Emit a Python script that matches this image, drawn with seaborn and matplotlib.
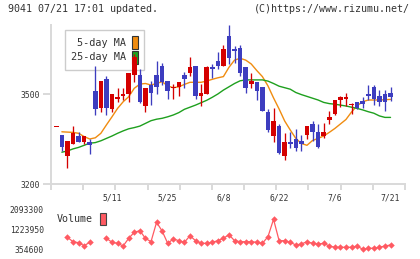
import numpy as np
import pandas as pd
import matplotlib
matplotlib.use("Agg")
import matplotlib.pyplot as plt
from matplotlib.patches import Patch
import seaborn as sns

# daily prices (red = up day, blue = down day)
opens = [3390, 3365, 3295, 3335, 3360, 3340, 3340, 3510, 3455, 3550,
         3450, 3485, 3495, 3500, 3565, 3565, 3460, 3530, 3565, 3595,
         3545, 3520, 3525, 3565, 3570, 3595, 3495, 3500, 3590, 3610,
         3595, 3695, 3650, 3655, 3590, 3535, 3540, 3525, 3440, 3360,
         3395, 3295, 3340, 3350, 3345, 3365, 3400, 3375, 3360, 3415,
         3435, 3480, 3485, 3462, 3475, 3478, 3500, 3525, 3495, 3500, 3505]
closes = [3390, 3325, 3345, 3370, 3340, 3360, 3330, 3450, 3545, 3455,
          3500, 3490, 3500, 3570, 3625, 3475, 3520, 3505, 3525, 3540,
          3510, 3525, 3540, 3550, 3590, 3495, 3505, 3590, 3585, 3595,
          3650, 3620, 3645, 3570, 3520, 3545, 3510, 3445, 3380, 3410,
          3305, 3340, 3335, 3320, 3335, 3395, 3375, 3325, 3375, 3425,
          3480, 3490, 3490, 3467, 3455, 3468, 3493, 3485, 3475, 3475, 3490]
highs = [3390, 3365, 3345, 3395, 3375, 3360, 3350, 3595, 3545, 3560,
         3500, 3520, 3520, 3570, 3635, 3585, 3520, 3545, 3610, 3605,
         3545, 3535, 3540, 3575, 3625, 3595, 3535, 3595, 3600, 3640,
         3665, 3730, 3660, 3665, 3590, 3570, 3540, 3525, 3450, 3452,
         3400, 3370, 3375, 3385, 3365, 3395, 3410, 3400, 3402, 3442,
         3480, 3495, 3505, 3470, 3475, 3490, 3530, 3530, 3515, 3515, 3525]
lows = [3390, 3310, 3255, 3335, 3340, 3335, 3300, 3430, 3440, 3430,
        3440, 3472, 3480, 3475, 3540, 3470, 3440, 3465, 3500, 3530,
        3485, 3485, 3495, 3520, 3560, 3485, 3460, 3500, 3555, 3585,
        3595, 3600, 3605, 3560, 3505, 3520, 3480, 3445, 3375, 3340,
        3300, 3280, 3320, 3310, 3310, 3350, 3345, 3320, 3355, 3400,
        3430, 3458, 3460, 3432, 3450, 3452, 3480, 3465, 3460, 3445, 3477]

# moving averages (first day has none)
ma5 = [np.nan, 3374, 3373, 3372, 3369, 3358, 3350, 3354, 3369, 3397,
       3424, 3452, 3474, 3491, 3519, 3533, 3535, 3530, 3535, 3541,
       3527, 3521, 3524, 3532, 3539, 3539, 3539, 3543, 3549, 3554,
       3558, 3589, 3613, 3619, 3613, 3600, 3578, 3558, 3527, 3487,
       3450, 3410, 3380, 3352, 3335, 3329, 3345, 3352, 3360, 3372,
       3385, 3400, 3415, 3440, 3461, 3474, 3480, 3480, 3480, 3481, 3482]
ma25 = [np.nan, 3306, 3310, 3317, 3322, 3329, 3336, 3338, 3344, 3352,
        3360, 3369, 3377, 3384, 3388, 3393, 3402, 3411, 3416, 3419,
        3424, 3430, 3438, 3449, 3456, 3463, 3471, 3479, 3489, 3500,
        3513, 3524, 3535, 3544, 3547, 3547, 3547, 3547, 3543, 3535,
        3526, 3521, 3516, 3505, 3498, 3492, 3486, 3480, 3472, 3468,
        3466, 3463, 3460, 3456, 3452, 3447, 3441, 3436, 3427, 3422, 3422]

# volume (two missing days)
volume = [np.nan, np.nan, 872000, 682000, 639000, 510000, 657000, np.nan, np.nan, 829000,
          657000, 613000, 497000, 829000, 1088000, 1157000, 829000, 682000, 1519000, 1144000,
          613000, 799000, 726000, 657000, 941000, 726000, 613000, 613000, 657000, 726000,
          829000, 984000, 726000, 682000, 682000, 682000, 657000, 613000, 898000, 1649000,
          726000, 726000, 657000, 540000, 583000, 682000, 613000, 583000, 613000, 497000,
          441000, 441000, 441000, 441000, 497000, 355000, 398000, 398000, 441000, 497000, 540000]

date_pos = [10, 20, 30, 40, 50, 60]
date_labels = ["5/11", "5/25", "6/8", "6/22", "7/6", "7/21"]
price_ticks = [3200, 3500]
vol_ticks = [354600, 1223950, 2093300]

RED = "#d40000"
BLUE = "#3d3dbf"
ORANGE = "#f08c10"
GREEN = "#1ea01e"
VOLC = "#ff5a62"
GRID = "#d9d9d9"
TXT = "#333333"

sns.set_theme(style="white")
plt.rcParams["font.family"] = ["DejaVu Sans Mono"]

fig = plt.figure(figsize=(4.2, 2.59), dpi=100)
W, H = 420, 259
ax = fig.add_axes([51 / W, 1 - 184 / H, 354 / W, 159 / H])
ax2 = fig.add_axes([51 / W, 1 - 253 / H, 354 / W, 48 / H])

df = pd.DataFrame({"day": np.arange(len(opens)), "open": opens, "close": closes,
                   "high": highs, "low": lows, "ma5": ma5, "ma25": ma25, "vol": volume})
df["up"] = df["close"] >= df["open"]
df["color"] = np.where(df["up"], RED, BLUE)

# candles
ax.vlines(df["day"], df["low"], df["high"], colors=df["color"], lw=0.95, zorder=4)
body_lo = df[["open", "close"]].min(axis=1)
body_h = (df["close"] - df["open"]).abs().clip(lower=5)
ax.bar(df["day"], body_h, bottom=body_lo, width=0.82, color=df["color"], lw=0, zorder=5)

sns.lineplot(data=df, x="day", y="ma5", ax=ax, color=ORANGE, lw=1.0, zorder=3)
sns.lineplot(data=df, x="day", y="ma25", ax=ax, color=GREEN, lw=1.0, zorder=3)

xmin, xmax = -0.95, 62.6
ax.set_xlim(xmin, xmax)
ax.set_ylim(3200, 3730)
ax.set_xlabel("")
ax.set_ylabel("")
ax.set_xticks(date_pos)
ax.set_xticklabels(date_labels)
ax.set_xticks(np.linspace(xmin, xmax, 12), minor=True)
ax.tick_params(axis="x", which="major", length=0, pad=7, labelsize=5.8, labelcolor=TXT)
ax.tick_params(axis="x", which="minor", length=4, width=1.4, color=GRID, bottom=True)
ax.set_yticks(price_ticks)
ax.set_yticklabels([str(t) for t in price_ticks])
ax.tick_params(axis="y", length=6, width=1.4, color=GRID, pad=2, labelsize=5.8,
               labelcolor=TXT, left=True)
for s in ["top", "right"]:
    ax.spines[s].set_visible(False)
for s in ["left", "bottom"]:
    ax.spines[s].set_color(GRID)
    ax.spines[s].set_linewidth(1.4)
ax.grid(False)

leg = ax.legend(handles=[Patch(fc=ORANGE, ec="#333333", lw=0.8), Patch(fc=GREEN, ec="#333333", lw=0.8)],
                labels=["5-day MA", "25-day MA"], loc="upper left",
                bbox_to_anchor=(65 / W, 1 - 30 / H), bbox_transform=fig.transFigure,
                borderaxespad=0, borderpad=0.6, handlelength=0.6, handleheight=1.6,
                handletextpad=0.6, labelspacing=0.15, markerfirst=False,
                fancybox=False, framealpha=1, edgecolor="#cccccc", fontsize=7.3)
leg.get_frame().set_linewidth(1.0)
leg.set_zorder(2)
for t in leg.get_texts():
    t.set_color(TXT)

# volume panel
df["seg"] = np.where(df["day"] < 8, 0, 1)
sns.lineplot(data=df.dropna(subset=["vol"]), x="day", y="vol", units="seg", estimator=None,
             ax=ax2, color=VOLC, lw=0.9, marker="D", markersize=3.3,
             markeredgewidth=0, legend=False)
ax2.set_xlim(xmin, xmax)
ax2.set_ylim(194967, 2265880)
ax2.set_xticks([])
ax2.set_yticks(vol_ticks)
ax2.set_yticklabels([str(t) for t in vol_ticks])
ax2.tick_params(axis="y", length=0, pad=5, labelsize=5.8, labelcolor=TXT)
ax2.set_xlabel("")
ax2.set_ylabel("")
for s in ax2.spines.values():
    s.set_visible(False)
ax2.set_facecolor("none")

ax2.legend(handles=[Patch(fc=VOLC, ec="#444444", lw=0.8)], labels=["Volume"],
           loc="upper left", bbox_to_anchor=(57 / W, 1 - 213 / H),
           bbox_transform=fig.transFigure, frameon=False, borderaxespad=0,
           borderpad=0, handlelength=0.6, handleheight=1.5, handletextpad=0.7,
           markerfirst=False, fontsize=7.2, labelcolor=TXT)

fig.text(8 / W, 1 - 9.5 / H, "9041 07/21 17:01 updated.", fontsize=7.2, color=TXT,
         ha="left", va="center")
fig.text(410 / W, 1 - 9.5 / H, "(C)https://www.rizumu.net/", fontsize=7.2, color=TXT,
         ha="right", va="center")

fig.savefig("out.png", dpi=100)
